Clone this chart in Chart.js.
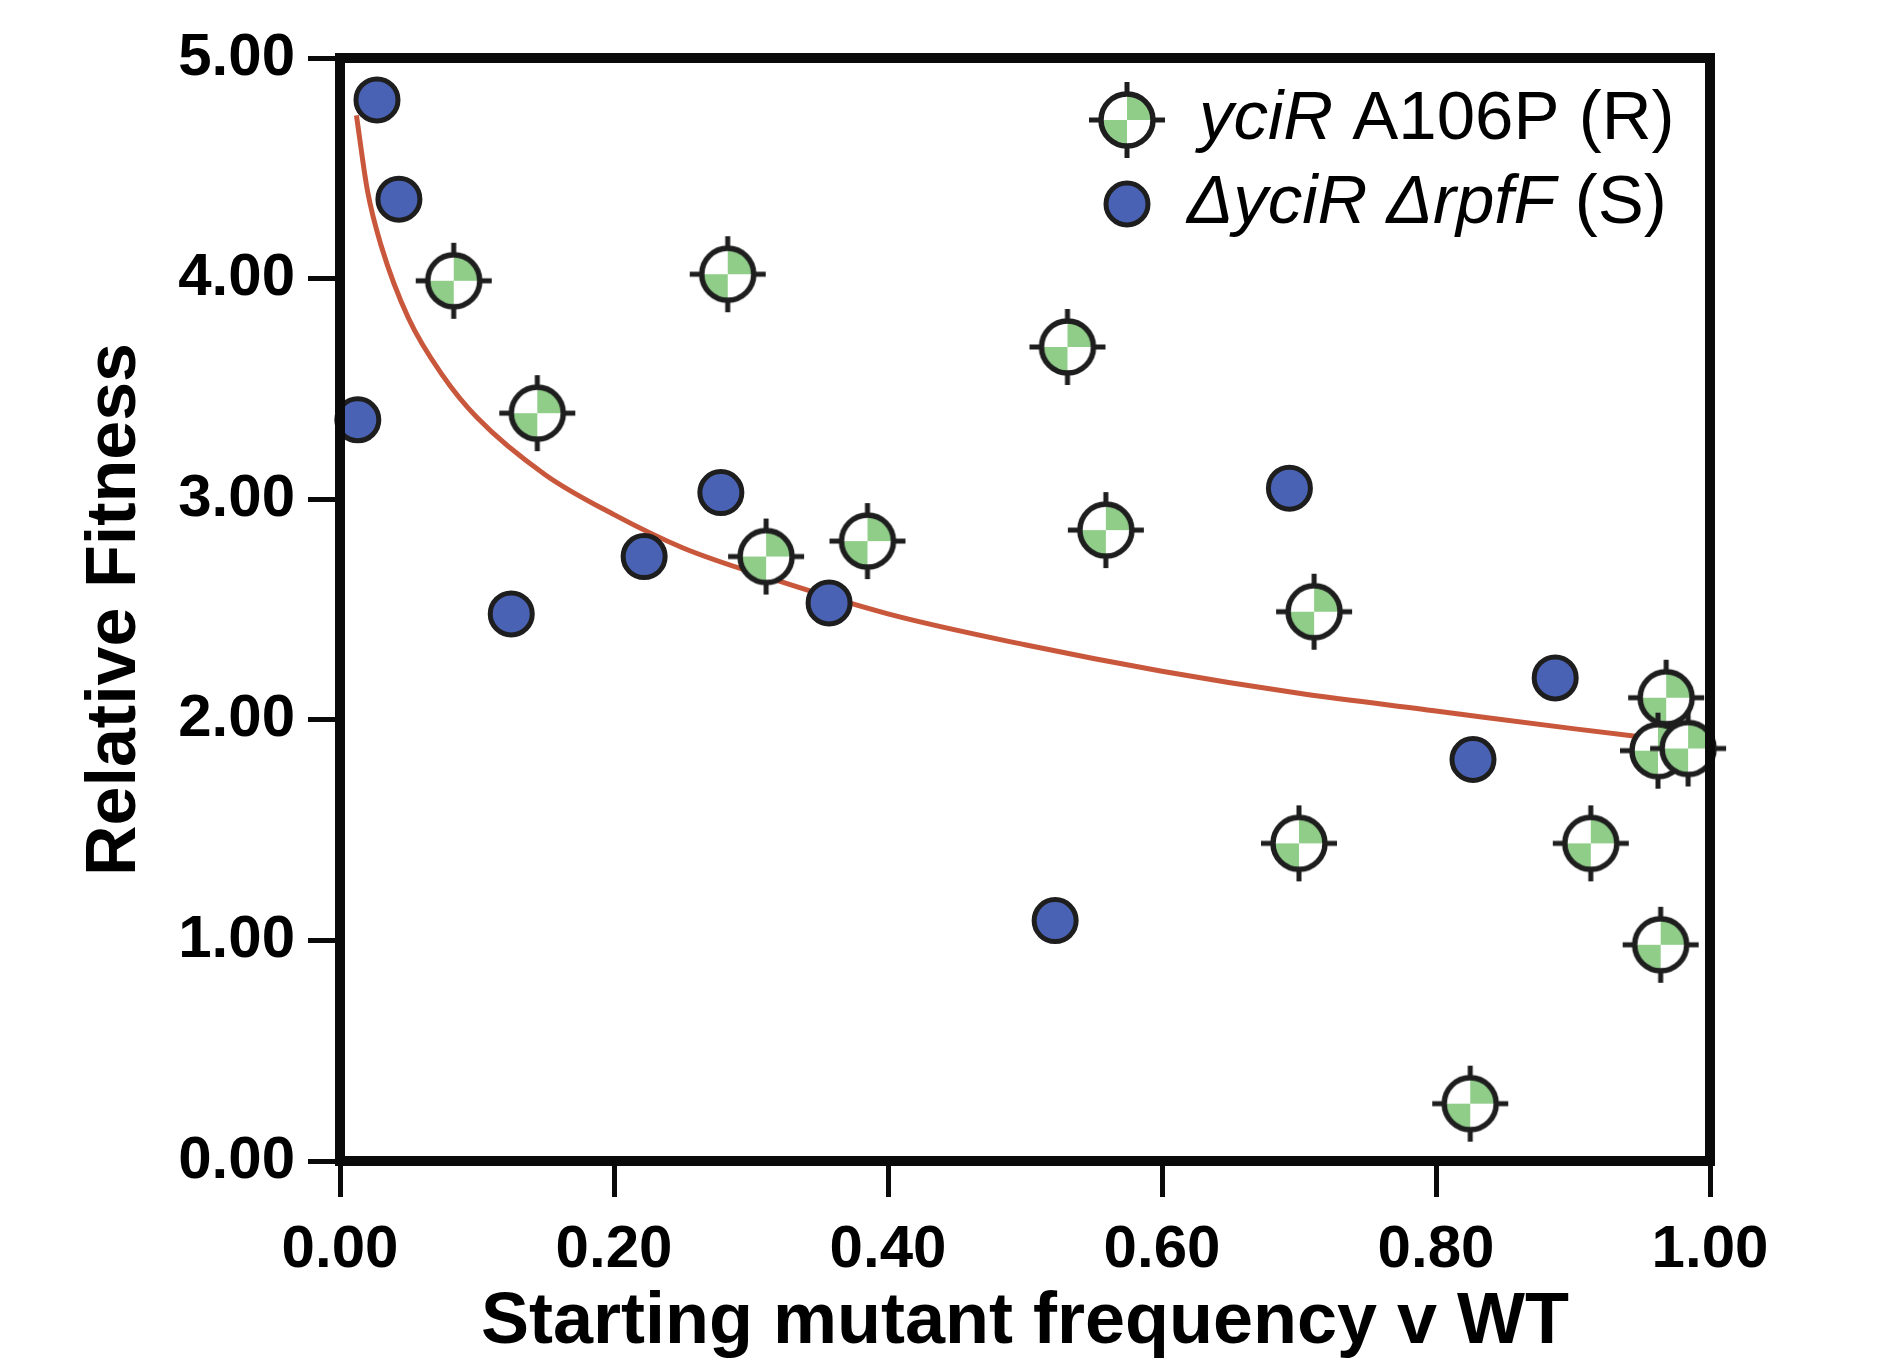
<!DOCTYPE html>
<html>
<head>
<meta charset="utf-8">
<script src="https://cdn.jsdelivr.net/npm/chart.js@4"></script>
<style>
  html, body { margin: 0; padding: 0; background: #fff; }
  #wrap { width: 1880px; height: 1364px; }
</style>
</head>
<body>
<div id="wrap"><canvas id="chart" width="1880" height="1364"></canvas></div>
<script>
// yciR A106P (R) points
const resistantX = [0.083, 0.144, 0.283, 0.311, 0.385, 0.531, 0.559, 0.711, 0.700, 0.825, 0.913, 0.964, 0.968, 0.962, 0.984];
const resistantY = [3.99, 3.39, 4.02, 2.74, 2.81, 3.69, 2.86, 2.49, 1.44, 0.26, 1.44, 0.98, 2.10, 1.86, 1.87];

// ΔyciR ΔrpfF (S) points
const sensitiveX = [0.027, 0.043, 0.013, 0.125, 0.222, 0.278, 0.357, 0.522, 0.693, 0.887, 0.827, 0.962];
const sensitiveY = [4.81, 4.36, 3.36, 2.48, 2.74, 3.03, 2.53, 1.09, 3.05, 2.19, 1.82, 1.87];

// fitted curve
const fitX = [0.012, 0.02, 0.03, 0.05, 0.075, 0.1, 0.15, 0.2, 0.25, 0.3, 0.4, 0.5, 0.6, 0.7, 0.8, 0.9, 0.98];
const fitY = [4.74, 4.40, 4.15, 3.82, 3.56, 3.37, 3.11, 2.93, 2.78, 2.67, 2.48, 2.34, 2.22, 2.12, 2.04, 1.96, 1.90];

const xTicks = [0, 0.2, 0.4, 0.6, 0.8, 1.0];
const yTicks = [0, 1, 2, 3, 4, 5];

const GREEN = '#8fcd89';
const BLUE = '#4a62b3';
const INK = '#1e1e1e';
const FONT = "'Liberation Sans', Arial, Helvetica, sans-serif";

const toXY = (xs, ys) => xs.map((x, i) => ({ x: x, y: ys[i] }));

// green "target" marker: quartered circle with crosshair arms
function makeTarget() {
    const r = 26, arm = 38;
    const size = 2 * (arm + 3);
    const c = document.createElement('canvas');
    c.width = size; c.height = size;
    const g = c.getContext('2d');
    const m = size / 2;
    g.fillStyle = '#fff';
    g.beginPath(); g.arc(m, m, r, 0, Math.PI * 2); g.fill();
    g.fillStyle = GREEN;
    g.beginPath(); g.moveTo(m, m); g.arc(m, m, r, -Math.PI / 2, 0); g.closePath(); g.fill();
    g.beginPath(); g.moveTo(m, m); g.arc(m, m, r, Math.PI / 2, Math.PI); g.closePath(); g.fill();
    g.strokeStyle = INK;
    g.lineWidth = 5.5;
    g.beginPath(); g.arc(m, m, r, 0, Math.PI * 2); g.stroke();
    g.lineWidth = 5;
    g.beginPath();
    g.moveTo(m, m - r); g.lineTo(m, m - arm);
    g.moveTo(m, m + r); g.lineTo(m, m + arm);
    g.moveTo(m - r, m); g.lineTo(m - arm, m);
    g.moveTo(m + r, m); g.lineTo(m + arm, m);
    g.stroke();
    return c;
}
const target = makeTarget();

// thick box round the plot area
const framePlugin = {
    id: 'frame',
    afterDatasetsDraw(chart) {
        const { ctx, chartArea: a } = chart;
        ctx.save();
        ctx.strokeStyle = '#0a0a0a';
        ctx.lineWidth = 10;
        ctx.strokeRect(a.left, a.top, a.right - a.left, a.bottom - a.top);
        ctx.restore();
    }
};

// legend with italic gene names
const legendPlugin = {
    id: 'richLegend',
    afterDraw(chart) {
        const ctx = chart.ctx;
        const size = 69;
        const rows = [
            { y: 120, tx: 1199, parts: [['yciR', true], [' A106P (R)', false]] },
            { y: 204, tx: 1187, parts: [['\u0394yciR \u0394rpfF', true], [' (S)', false]] }
        ];
        ctx.save();
        ctx.drawImage(target, 1127 - target.width / 2, rows[0].y - target.height / 2);
        ctx.beginPath();
        ctx.arc(1127, rows[1].y, 21, 0, Math.PI * 2);
        ctx.fillStyle = BLUE; ctx.fill();
        ctx.lineWidth = 5; ctx.strokeStyle = INK; ctx.stroke();
        ctx.fillStyle = '#000';
        ctx.textBaseline = 'middle';
        ctx.textAlign = 'left';
        rows.forEach(row => {
            let x = row.tx;
            row.parts.forEach(([t, it]) => {
                ctx.font = (it ? 'italic ' : '') + size + 'px ' + FONT;
                ctx.fillText(t, x, row.y);
                x += ctx.measureText(t).width;
            });
        });
        ctx.restore();
    }
};

new Chart(document.getElementById('chart'), {
    type: 'scatter',
    data: {
        datasets: [
            {
                label: 'yciR A106P (R)',
                data: toXY(resistantX, resistantY),
                pointStyle: target,
                clip: false
            },
            {
                label: '\u0394yciR \u0394rpfF (S)',
                data: toXY(sensitiveX, sensitiveY),
                pointStyle: 'circle',
                pointRadius: 21,
                pointHoverRadius: 21,
                backgroundColor: BLUE,
                borderColor: INK,
                borderWidth: 5,
                clip: false
            },
            {
                label: 'fit',
                data: toXY(fitX, fitY),
                showLine: true,
                pointRadius: 0,
                borderColor: '#c9573c',
                borderWidth: 5,
                cubicInterpolationMode: 'monotone',
                clip: false
            }
        ]
    },
    options: {
        responsive: false,
        animation: false,
        events: [],
        layout: { padding: { top: 58, right: 170, left: 0, bottom: 0 } },
        plugins: {
            legend: { display: false },
            tooltip: { enabled: false }
        },
        scales: {
            x: {
                type: 'linear',
                min: 0, max: 1,
                afterFit: s => { s.height = 203; },
                afterBuildTicks: s => { s.ticks = xTicks.map(v => ({ value: v })); },
                border: { display: false },
                grid: { drawOnChartArea: false, drawTicks: true, tickLength: 36, tickWidth: 5, tickColor: '#0a0a0a' },
                ticks: {
                    padding: 17,
                    color: '#000',
                    maxRotation: 0,
                    font: { family: FONT, size: 60, weight: 'bold' },
                    callback: v => Number(v).toFixed(2)
                },
                title: {
                    display: true,
                    text: 'Starting mutant frequency v WT',
                    color: '#000',
                    font: { family: FONT, size: 72, weight: 'bold', lineHeight: 1 },
                    padding: { top: 0, bottom: 5 }
                }
            },
            y: {
                type: 'linear',
                min: 0, max: 5,
                afterFit: s => { s.width = 340; },
                afterBuildTicks: s => { s.ticks = yTicks.map(v => ({ value: v })); },
                border: { display: false },
                grid: { drawOnChartArea: false, drawTicks: true, tickLength: 32, tickWidth: 5, tickColor: '#0a0a0a' },
                ticks: {
                    padding: 13,
                    color: '#000',
                    font: { family: FONT, size: 60, weight: 'bold' },
                    callback: v => Number(v).toFixed(2)
                },
                title: {
                    display: true,
                    text: 'Relative Fitness',
                    color: '#000',
                    font: { family: FONT, size: 70, weight: 'bold', lineHeight: 1 },
                    padding: { top: 81, bottom: 0 }
                }
            }
        }
    },
    plugins: [framePlugin, legendPlugin]
});
</script>
</body>
</html>
